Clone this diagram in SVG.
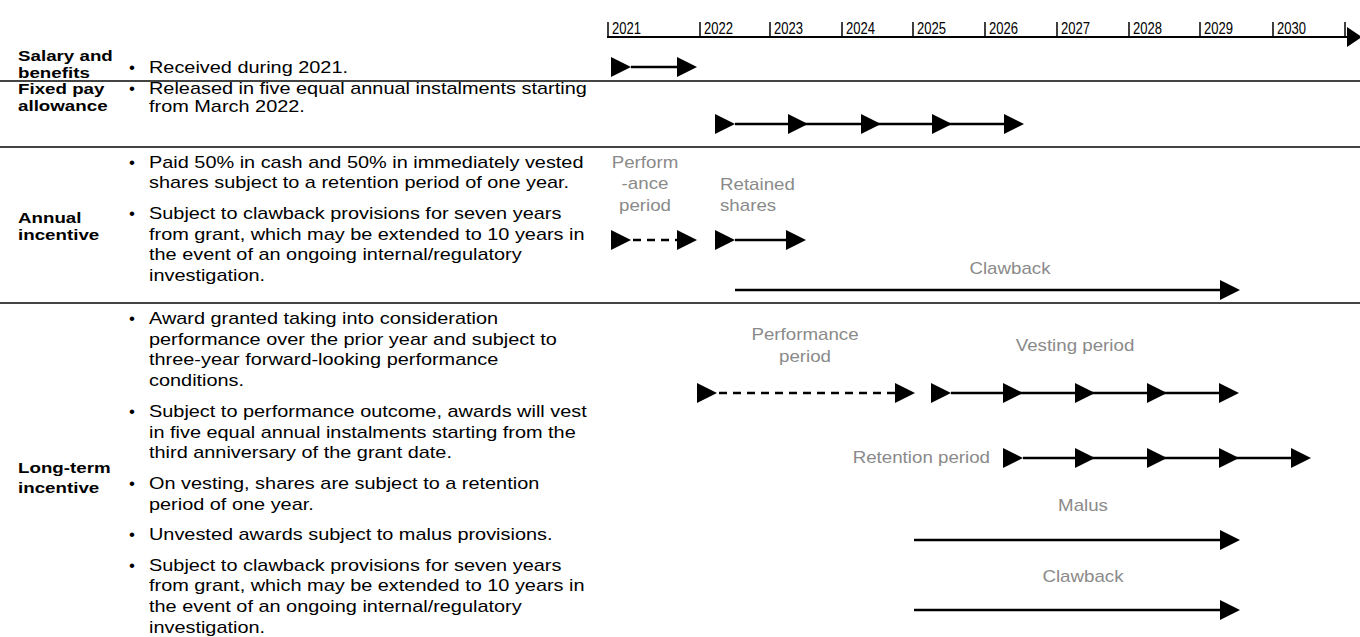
<svg xmlns="http://www.w3.org/2000/svg" xmlns:xlink="http://www.w3.org/1999/xlink" width="1360" height="637" viewBox="0 0 1360 637">
<style>
.lbl{font-family:"Liberation Sans",Arial,sans-serif;font-weight:bold;font-size:15px;fill:#000}
.txt{font-family:"Liberation Sans",Arial,sans-serif;font-size:17px;fill:#000}
.gray{font-family:"Liberation Sans",Arial,sans-serif;font-size:16px;fill:#8a8a8a}
.yr{font-family:"Liberation Sans Narrow","Liberation Sans",Arial,sans-serif;font-size:16.5px;fill:#000}
.sep{stroke:#444;stroke-width:2}
.ln{stroke:#000;stroke-width:2.5;fill:none}
.dash{stroke:#000;stroke-width:2.5;fill:none;stroke-dasharray:8 6}
.tick{stroke:#000;stroke-width:1.5}
</style>
<defs>
<path id="tri" d="M0,-10 L20,0 L0,10 Z" fill="#000"/>
</defs>
<rect width="1360" height="637" fill="#fff"/>

<g id="axis">
<line x1="607" y1="37" x2="1350" y2="37" stroke="#000" stroke-width="2"/>
<path d="M1347,27 L1362,37 L1347,47 Z" fill="#000"/>
<line class="tick" x1="608" y1="22" x2="608" y2="37"/>
<line class="tick" x1="700" y1="22" x2="700" y2="37"/>
<line class="tick" x1="770" y1="22" x2="770" y2="37"/>
<line class="tick" x1="842" y1="22" x2="842" y2="37"/>
<line class="tick" x1="913" y1="22" x2="913" y2="37"/>
<line class="tick" x1="985" y1="22" x2="985" y2="37"/>
<line class="tick" x1="1057" y1="22" x2="1057" y2="37"/>
<line class="tick" x1="1129" y1="22" x2="1129" y2="37"/>
<line class="tick" x1="1200" y1="22" x2="1200" y2="37"/>
<line class="tick" x1="1273" y1="22" x2="1273" y2="37"/>
<line class="tick" x1="1345" y1="22" x2="1345" y2="37"/>
<text class="yr" x="612" y="34" textLength="29" lengthAdjust="spacingAndGlyphs">2021</text>
<text class="yr" x="704" y="34" textLength="29" lengthAdjust="spacingAndGlyphs">2022</text>
<text class="yr" x="774" y="34" textLength="29" lengthAdjust="spacingAndGlyphs">2023</text>
<text class="yr" x="846" y="34" textLength="29" lengthAdjust="spacingAndGlyphs">2024</text>
<text class="yr" x="917" y="34" textLength="29" lengthAdjust="spacingAndGlyphs">2025</text>
<text class="yr" x="989" y="34" textLength="29" lengthAdjust="spacingAndGlyphs">2026</text>
<text class="yr" x="1061" y="34" textLength="29" lengthAdjust="spacingAndGlyphs">2027</text>
<text class="yr" x="1133" y="34" textLength="29" lengthAdjust="spacingAndGlyphs">2028</text>
<text class="yr" x="1204" y="34" textLength="29" lengthAdjust="spacingAndGlyphs">2029</text>
<text class="yr" x="1277" y="34" textLength="29" lengthAdjust="spacingAndGlyphs">2030</text>
</g>

<g id="separators">
<line class="sep" x1="0" y1="81" x2="1360" y2="81"/>
<line class="sep" x1="0" y1="147" x2="1360" y2="147"/>
<line class="sep" x1="0" y1="303" x2="1360" y2="303"/>
</g>

<g id="row-salary">
<g transform="translate(18 0) scale(1.25 1)">
<text class="lbl" x="0" y="61">Salary and</text>
<text class="lbl" x="0" y="78">benefits</text>
</g>
<text class="txt" x="129" y="73">•</text>
<g transform="translate(149 0) scale(1.17 1)">
<text class="txt" x="0" y="73">Received during 2021.</text>
</g>
</g>

<g id="row-fixed">
<g transform="translate(18 0) scale(1.25 1)">
<text class="lbl" x="0" y="94">Fixed pay</text>
<text class="lbl" x="0" y="111">allowance</text>
</g>
<text class="txt" x="129" y="94">•</text>
<g transform="translate(149 0) scale(1.17 1)">
<text class="txt" x="0" y="94">Released in five equal annual instalments starting</text>
<text class="txt" x="0" y="112">from March 2022.</text>
</g>
</g>

<g id="row-annual">
<g transform="translate(18 0) scale(1.25 1)">
<text class="lbl" x="0" y="223">Annual</text>
<text class="lbl" x="0" y="240">incentive</text>
</g>
<text class="txt" x="129" y="168">•</text>
<text class="txt" x="129" y="219">•</text>
<g transform="translate(149 0) scale(1.17 1)">
<text class="txt" x="0" y="168">Paid 50% in cash and 50% in immediately vested</text>
<text class="txt" x="0" y="188">shares subject to a retention period of one year.</text>
<text class="txt" x="0" y="219">Subject to clawback provisions for seven years</text>
<text class="txt" x="0" y="240">from grant, which may be extended to 10 years in</text>
<text class="txt" x="0" y="260">the event of an ongoing internal/regulatory</text>
<text class="txt" x="0" y="281">investigation.</text>
</g>
<g transform="translate(645 0) scale(1.17 1)">
<text class="gray" x="0" y="168" text-anchor="middle">Perform</text>
<text class="gray" x="0" y="189" text-anchor="middle">-ance</text>
<text class="gray" x="0" y="211" text-anchor="middle">period</text>
</g>
<g transform="translate(720 0) scale(1.17 1)">
<text class="gray" x="0" y="190">Retained</text>
<text class="gray" x="0" y="211">shares</text>
</g>
<text class="gray" transform="translate(1010 274) scale(1.17 1)" text-anchor="middle">Clawback</text>
</g>

<g id="row-ltip">
<g transform="translate(18 0) scale(1.25 1)">
<text class="lbl" x="0" y="473">Long-term</text>
<text class="lbl" x="0" y="493">incentive</text>
</g>
<text class="txt" x="129" y="324">•</text>
<text class="txt" x="129" y="417">•</text>
<text class="txt" x="129" y="489">•</text>
<text class="txt" x="129" y="540">•</text>
<text class="txt" x="129" y="571">•</text>
<g transform="translate(149 0) scale(1.17 1)">
<text class="txt" x="0" y="324">Award granted taking into consideration</text>
<text class="txt" x="0" y="345">performance over the prior year and subject to</text>
<text class="txt" x="0" y="365">three-year forward-looking performance</text>
<text class="txt" x="0" y="386">conditions.</text>
<text class="txt" x="0" y="417">Subject to performance outcome, awards will vest</text>
<text class="txt" x="0" y="438">in five equal annual instalments starting from the</text>
<text class="txt" x="0" y="458">third anniversary of the grant date.</text>
<text class="txt" x="0" y="489">On vesting, shares are subject to a retention</text>
<text class="txt" x="0" y="510">period of one year.</text>
<text class="txt" x="0" y="540">Unvested awards subject to malus provisions.</text>
<text class="txt" x="0" y="571">Subject to clawback provisions for seven years</text>
<text class="txt" x="0" y="591">from grant, which may be extended to 10 years in</text>
<text class="txt" x="0" y="612">the event of an ongoing internal/regulatory</text>
<text class="txt" x="0" y="633">investigation.</text>
</g>
<g transform="translate(805 0) scale(1.17 1)">
<text class="gray" x="0" y="340" text-anchor="middle">Performance</text>
<text class="gray" x="0" y="362" text-anchor="middle">period</text>
</g>
<text class="gray" transform="translate(1075 351) scale(1.17 1)" text-anchor="middle">Vesting period</text>
<text class="gray" transform="translate(990 463) scale(1.17 1)" text-anchor="end">Retention period</text>
<text class="gray" transform="translate(1083 511) scale(1.17 1)" text-anchor="middle">Malus</text>
<text class="gray" transform="translate(1083 582) scale(1.17 1)" text-anchor="middle">Clawback</text>
</g>

<g id="connectors">
<line class="ln" x1="631" y1="67" x2="677" y2="67"/>
<use xlink:href="#tri" x="611" y="67"/>
<use xlink:href="#tri" x="677" y="67"/>
<line class="ln" x1="735" y1="124" x2="1004" y2="124"/>
<use xlink:href="#tri" x="715" y="124"/>
<use xlink:href="#tri" x="788" y="124"/>
<use xlink:href="#tri" x="861" y="124"/>
<use xlink:href="#tri" x="932" y="124"/>
<use xlink:href="#tri" x="1004" y="124"/>
<line class="dash" x1="633" y1="240" x2="677" y2="240"/>
<use xlink:href="#tri" x="611" y="240"/>
<use xlink:href="#tri" x="677" y="240"/>
<line class="ln" x1="735" y1="240" x2="786" y2="240"/>
<use xlink:href="#tri" x="715" y="240"/>
<use xlink:href="#tri" x="786" y="240"/>
<line class="ln" x1="735" y1="290" x2="1222" y2="290"/>
<use xlink:href="#tri" x="1220" y="290"/>
<line class="dash" x1="719" y1="393" x2="895" y2="393"/>
<use xlink:href="#tri" x="697" y="393"/>
<use xlink:href="#tri" x="895" y="393"/>
<line class="ln" x1="951" y1="393" x2="1219" y2="393"/>
<use xlink:href="#tri" x="931" y="393"/>
<use xlink:href="#tri" x="1003" y="393"/>
<use xlink:href="#tri" x="1075" y="393"/>
<use xlink:href="#tri" x="1147" y="393"/>
<use xlink:href="#tri" x="1219" y="393"/>
<line class="ln" x1="1023" y1="458" x2="1291" y2="458"/>
<use xlink:href="#tri" x="1003" y="458"/>
<use xlink:href="#tri" x="1075" y="458"/>
<use xlink:href="#tri" x="1147" y="458"/>
<use xlink:href="#tri" x="1219" y="458"/>
<use xlink:href="#tri" x="1291" y="458"/>
<line class="ln" x1="914" y1="540" x2="1222" y2="540"/>
<use xlink:href="#tri" x="1220" y="540"/>
<line class="ln" x1="914" y1="610" x2="1222" y2="610"/>
<use xlink:href="#tri" x="1220" y="610"/>
</g>
</svg>
